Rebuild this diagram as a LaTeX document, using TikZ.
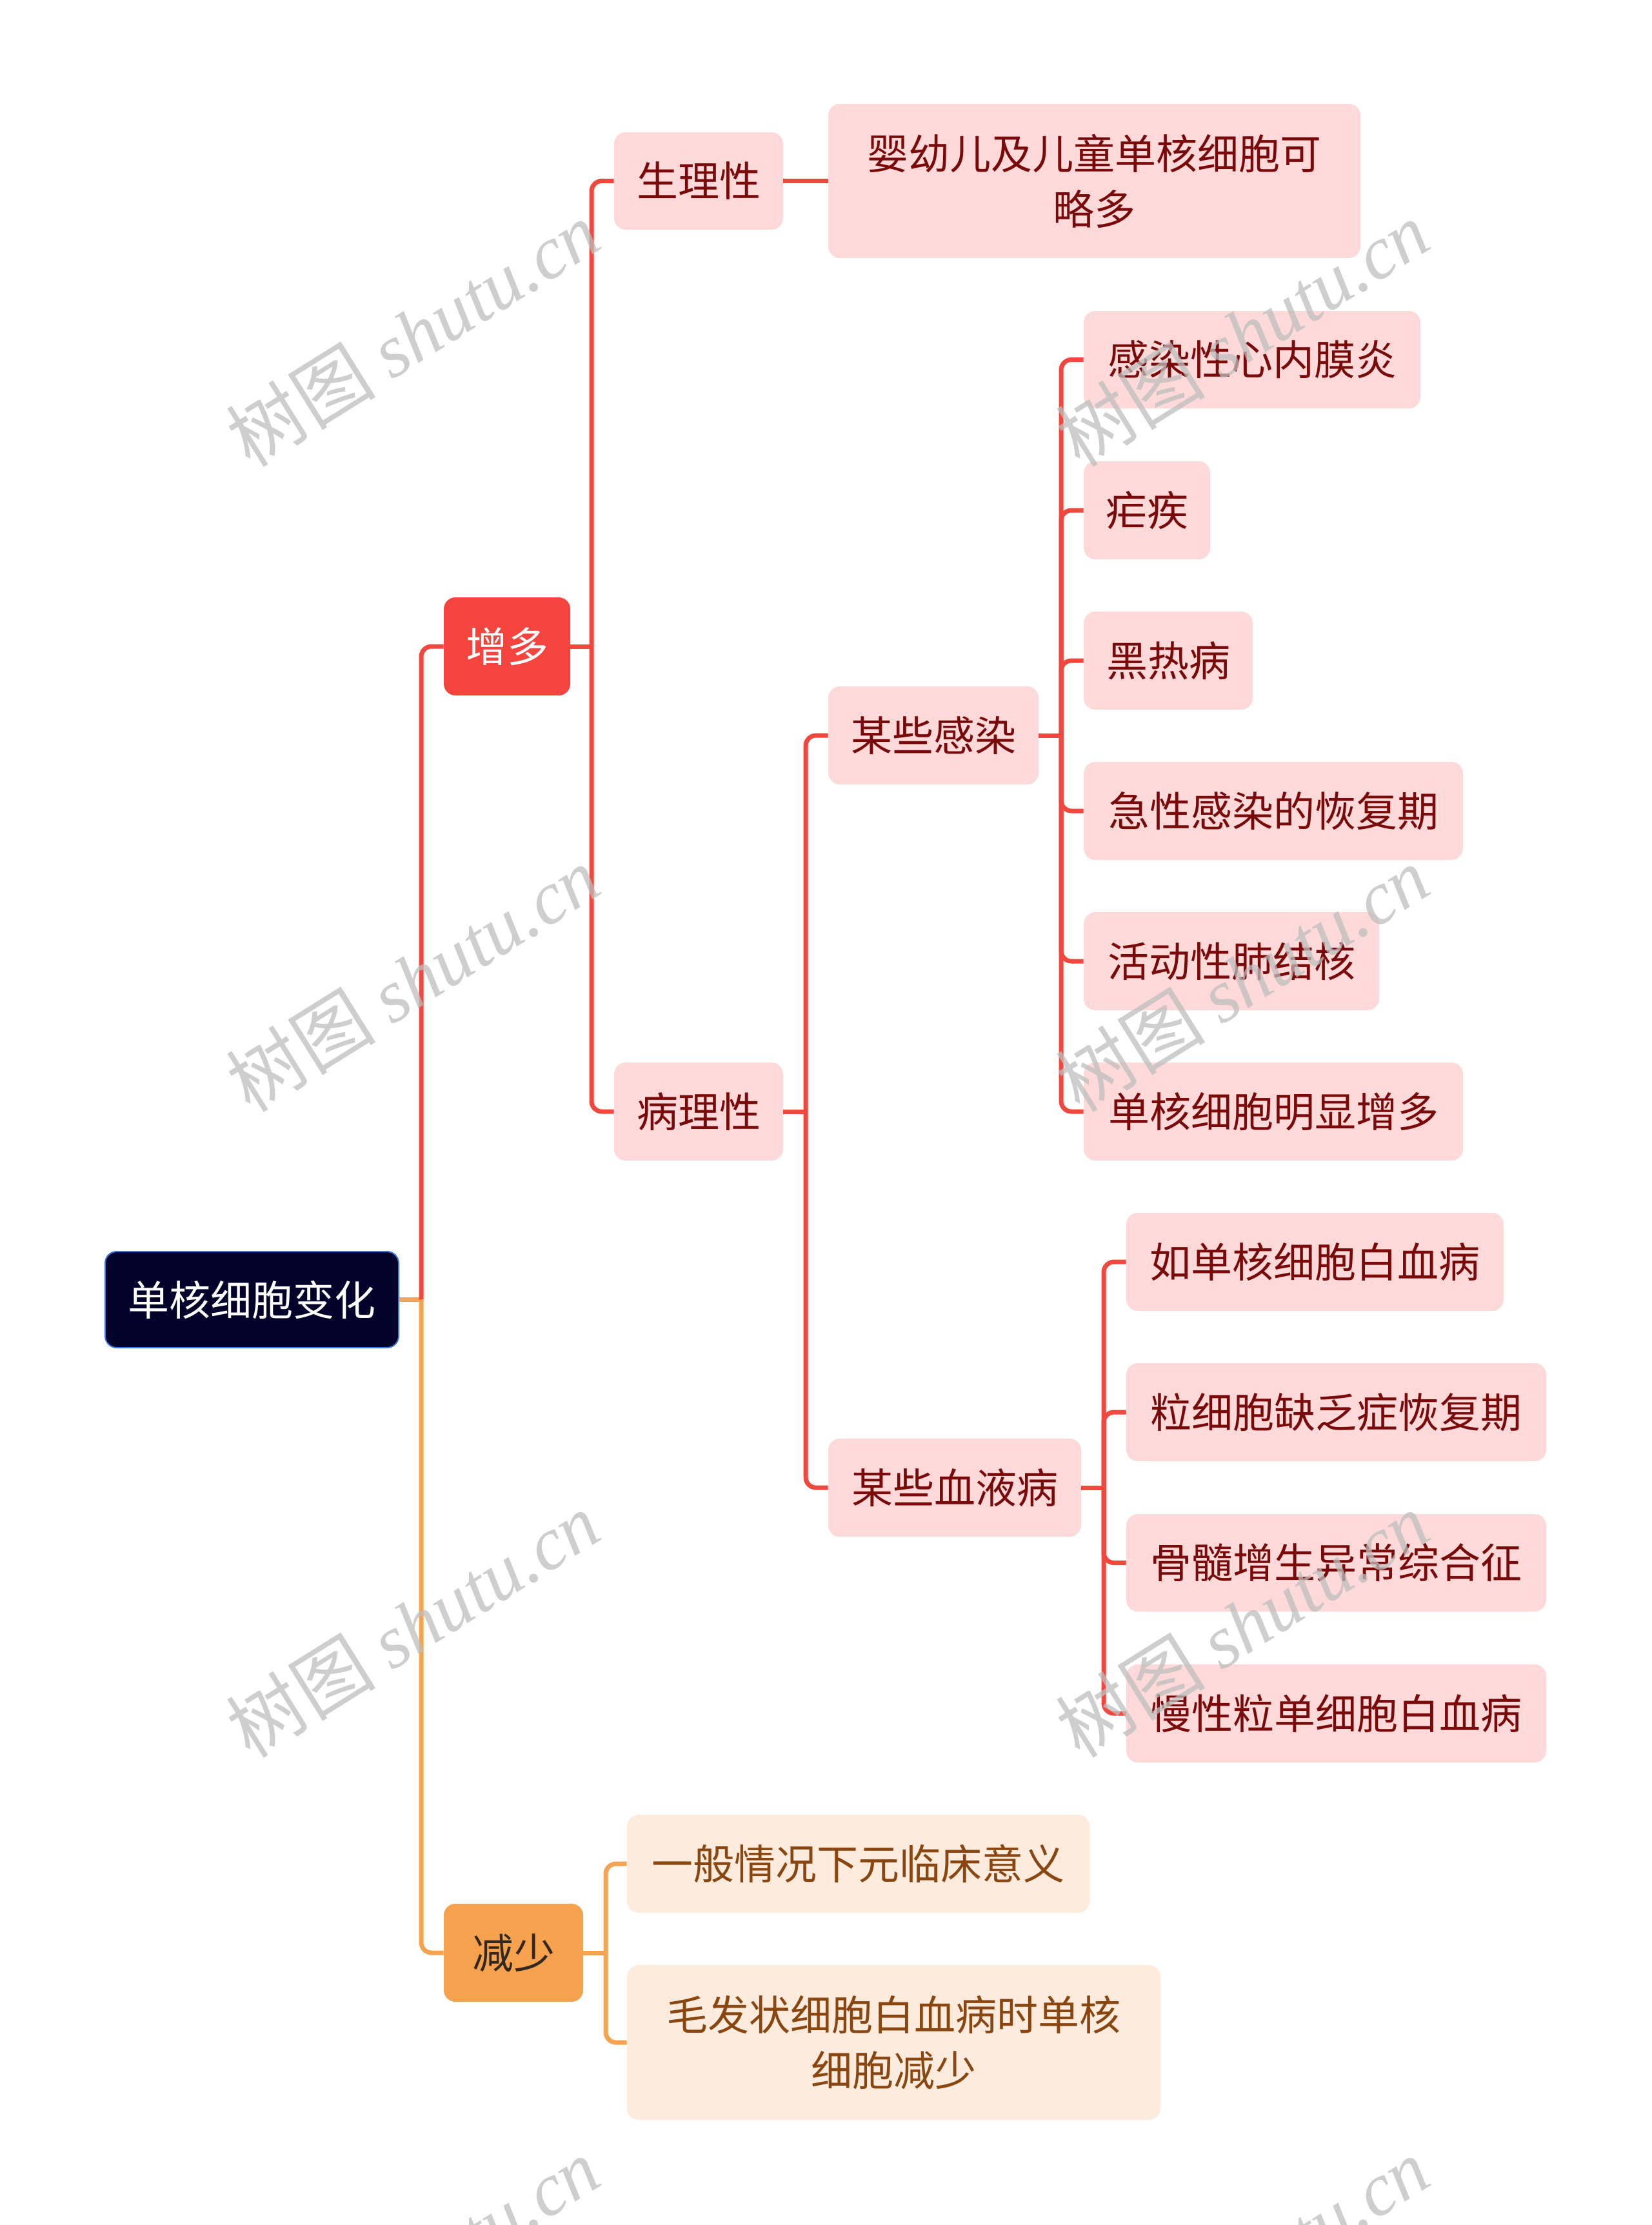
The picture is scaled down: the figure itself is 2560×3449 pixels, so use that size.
\documentclass[tikz,border=0pt]{standalone}
\usepackage{fontspec}
\setmainfont{Noto Sans CJK SC}
\newfontfamily\wmlatin{Liberation Serif}
\usetikzlibrary{positioning}
\definecolor{rootfill}{RGB}{2,2,42}
\definecolor{rootdraw}{RGB}{58,120,216}
\definecolor{redfill}{RGB}{245,68,62}
\definecolor{orgfill}{RGB}{245,161,77}
\definecolor{pinkfill}{RGB}{253,218,217}
\definecolor{peachfill}{RGB}{253,236,221}
\definecolor{redtext}{RGB}{122,10,10}
\definecolor{browntext}{RGB}{138,70,16}
\definecolor{redline}{RGB}{240,72,62}
\definecolor{orgline}{RGB}{245,163,80}
\definecolor{wmgray}{RGB}{190,190,190}
\tikzset{
  base/.style={rounded corners=9pt, inner sep=0pt, align=center, minimum height=76pt,
    font=\fontsize{32}{43}\selectfont},
  rootbox/.style={base, fill=rootfill, draw=rootdraw, line width=1pt, text=white},
  redbox/.style={base, fill=redfill, text=white},
  orgbox/.style={base, fill=orgfill, text={rgb,255:red,51;green,40;blue,30}},
  pinkbox/.style={base, fill=pinkfill, text=redtext},
  peachbox/.style={base, fill=peachfill, text=browntext},
  rl/.style={draw=redline, line width=3.5pt, rounded corners=8pt},
  ol/.style={draw=orgline, line width=3.5pt, rounded corners=8pt},
  wm/.style={text=wmgray, opacity=0.75, rotate=32, font=\fontsize{58}{58}\selectfont}
}
\begin{document}
\begin{tikzpicture}[x=0.5pt,y=-0.5pt]
\useasboundingbox[fill=white] (0,0) rectangle (2560,3449);
% nodes
\node[rootbox, minimum width=227.5pt, minimum height=74.5pt] (root) at (390.5,2014.5) {单核细胞变化};
\node[redbox, minimum width=98pt] (zd) at (786,1002) {增多};
\node[orgbox, minimum width=108pt] (js) at (796,3027) {减少};
\node[pinkbox, minimum width=131pt, minimum height=75.5pt] (sl) at (1083,280.5) {生理性};
\node[pinkbox, minimum width=412.5pt, minimum height=119.5pt] (yy) at (1696.5,280.5) {婴幼儿及儿童单核细胞可\\略多};
\node[pinkbox, minimum width=131pt] (bl) at (1083,1723) {病理性};
\node[pinkbox, minimum width=163pt] (gr) at (1447,1140) {某些感染};
\node[pinkbox, minimum width=196pt] (xy) at (1480,2306) {某些血液病};
\node[pinkbox, minimum width=261pt, minimum height=75.5pt] (c1) at (1941,557.5) {感染性心内膜炎};
\node[pinkbox, minimum width=98pt] (c2) at (1778,791) {疟疾};
\node[pinkbox, minimum width=131pt] (c3) at (1811,1024) {黑热病};
\node[pinkbox, minimum width=294pt] (c4) at (1974,1257) {急性感染的恢复期};
\node[pinkbox, minimum width=229pt] (c5) at (1909,1490) {活动性肺结核};
\node[pinkbox, minimum width=294pt] (c6) at (1974,1723) {单核细胞明显增多};
\node[pinkbox, minimum width=292.5pt] (d1) at (2038.5,1956) {如单核细胞白血病};
\node[pinkbox, minimum width=325.5pt] (d2) at (2071.5,2189) {粒细胞缺乏症恢复期};
\node[pinkbox, minimum width=325.5pt, minimum height=75.5pt] (d3) at (2071.5,2422.5) {骨髓增生异常综合征};
\node[pinkbox, minimum width=325.5pt] (d4) at (2071.5,2656) {慢性粒单细胞白血病};
\node[peachbox, minimum width=358.5pt] (e1) at (1330.5,2889) {一般情况下元临床意义};
\node[peachbox, minimum width=413.5pt, minimum height=120pt] (e2) at (1385.5,3166) {毛发状细胞白血病时单核\\细胞减少};
% connectors
\coordinate (t0) at (653,2014.5);
\draw[ol] (root.east) -- (t0);
\draw[rl] (t0) |- (zd.west);
\draw[ol] (t0) |- (js.west);
\coordinate (t1) at (917,1002);
\draw[rl] (zd.east) -- (t1);
\draw[rl] (t1) |- (sl.west);
\draw[rl] (t1) |- (bl.west);
\draw[rl] (sl.east) -- (yy.west);
\coordinate (t2) at (1249,1723);
\draw[rl] (bl.east) -- (t2);
\draw[rl] (t2) |- (gr.west);
\draw[rl] (t2) |- (xy.west);
\coordinate (t3) at (1645,1140);
\draw[rl] (gr.east) -- (t3);
\foreach \c in {c1,c2,c3,c4,c5,c6} \draw[rl] (t3) |- (\c.west);
\coordinate (t4) at (1711,2306);
\draw[rl] (xy.east) -- (t4);
\foreach \c in {d1,d2,d3,d4} \draw[rl] (t4) |- (\c.west);
\coordinate (t5) at (939,3027);
\draw[ol] (js.east) -- (t5);
\draw[ol] (t5) |- (e1.west);
\draw[ol] (t5) |- (e2.west);
% watermarks
\begin{scope}
\clip (0,0) rectangle (2560,3449);
\foreach \wx in {640,1926}{
  \foreach \wy in {517,1517,2518,3519}{
    \node[wm] (w\wx\wy) at (\wx,\wy) {树图 {\wmlatin\itshape shutu.cn}};
  }
}
\end{scope}
\end{tikzpicture}
\end{document}
